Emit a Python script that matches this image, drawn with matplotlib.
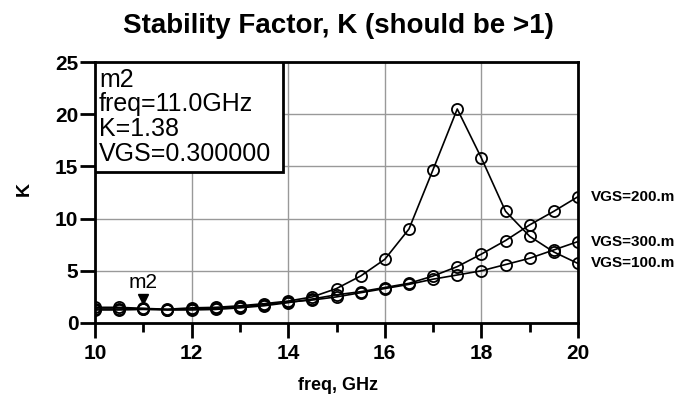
import numpy as np
import matplotlib
matplotlib.use("Agg")
import matplotlib.pyplot as plt
from matplotlib.patches import Rectangle
from matplotlib.transforms import offset_copy

plt.rcParams['font.family'] = ['Liberation Sans', 'DejaVu Sans']

freq = [10.0, 10.5, 11.0, 11.5, 12.0, 12.5, 13.0, 13.5, 14.0, 14.5, 15.0,
        15.5, 16.0, 16.5, 17.0, 17.5, 18.0, 18.5, 19.0, 19.5, 20.0]
k_vgs100 = [1.50, 1.50, 1.40, 1.32, 1.45, 1.50, 1.65, 1.85, 2.10, 2.50, 3.30,
            4.50, 6.10, 9.00, 14.70, 20.50, 15.80, 10.70, 8.30, 6.80, 5.70]
k_vgs200 = [1.25, 1.25, 1.30, 1.25, 1.25, 1.30, 1.45, 1.65, 1.95, 2.30, 2.70,
            3.00, 3.40, 3.80, 4.50, 5.40, 6.60, 7.90, 9.40, 10.70, 12.10]
k_vgs300 = [1.35, 1.35, 1.38, 1.28, 1.35, 1.40, 1.55, 1.75, 2.00, 2.20, 2.50,
            2.90, 3.30, 3.70, 4.20, 4.60, 5.00, 5.60, 6.20, 7.00, 7.80]
series_labels = ["VGS=100.m", "VGS=200.m", "VGS=300.m"]
marker_freq = 11.0
marker_k = 1.38
marker_lines = ["m2", "freq=11.0GHz", "K=1.38", "VGS=0.300000"]

fig = plt.figure(figsize=(6.83, 4.08), dpi=100)
ax = fig.add_axes([95/683, 1-323/408, (578-95)/683, (323-62)/408])

for vals in (k_vgs100, k_vgs200, k_vgs300):
    ax.plot(freq, vals, color='black', linewidth=1.2, marker='o',
            markersize=8, markerfacecolor='none', markeredgecolor='black',
            markeredgewidth=1.3, zorder=3)

ax.set_xlim(10, 20)
ax.set_ylim(0, 25)
ax.set_xticks(np.arange(10, 21, 2))
ax.set_xticks(np.arange(11, 20, 2), minor=True)
ax.set_yticks(np.arange(0, 26, 5))
ax.grid(True, which='major', color='#999999', linewidth=1.0)
ax.set_axisbelow(True)
for s in ax.spines.values():
    s.set_linewidth(2.0)
ax.tick_params(axis='x', which='major', direction='out', length=11, width=2,
               pad=4, labelsize=15)
ax.tick_params(axis='x', which='minor', direction='out', length=6.5, width=2)
ax.tick_params(axis='y', which='major', direction='out', length=11, width=2,
               pad=1, labelsize=15)
for lab in ax.get_xticklabels() + ax.get_yticklabels():
    lab.set_fontweight('bold')

# trace labels
for vals, lab in zip((k_vgs100, k_vgs200, k_vgs300), series_labels):
    ax.annotate(lab, xy=(freq[-1], vals[-1]), xytext=(9, 0),
                textcoords='offset points', ha='left', va='center',
                fontsize=11, fontweight='bold', annotation_clip=False)

# marker box
ax.add_patch(Rectangle((0, 0.579), 0.389, 0.421, transform=ax.transAxes,
                       fill=True, facecolor='white', edgecolor='black',
                       linewidth=2.0, zorder=5))
box_y = [0.904, 0.812, 0.7165, 0.621]
for txt, yy in zip(marker_lines, box_y):
    ax.text(0.008, yy, txt, transform=ax.transAxes, ha='left', va='baseline',
            fontsize=18, zorder=6)

# m2 marker
tri_tr = offset_copy(ax.transData, fig=fig, x=0, y=7, units='points')
ax.plot([marker_freq], [marker_k], marker='v', color='black', markersize=7,
        transform=tri_tr, zorder=6)
ax.annotate("m2", xy=(marker_freq, marker_k), xytext=(0, 19),
            textcoords='offset points', ha='center', va='center',
            fontsize=15, zorder=6)

fig.text(338/683, 1-33/408, "Stability Factor, K (should be >1)",
         ha='center', va='baseline', fontsize=20, fontweight='bold')
fig.text(338/683, 1-385/408, "freq, GHz", ha='center', va='center',
         fontsize=13, fontweight='bold')
fig.text(24/683, 1-189/408, "K", ha='center', va='center', rotation=90,
         fontsize=14, fontweight='bold')

fig.savefig("out.png", dpi=100)
